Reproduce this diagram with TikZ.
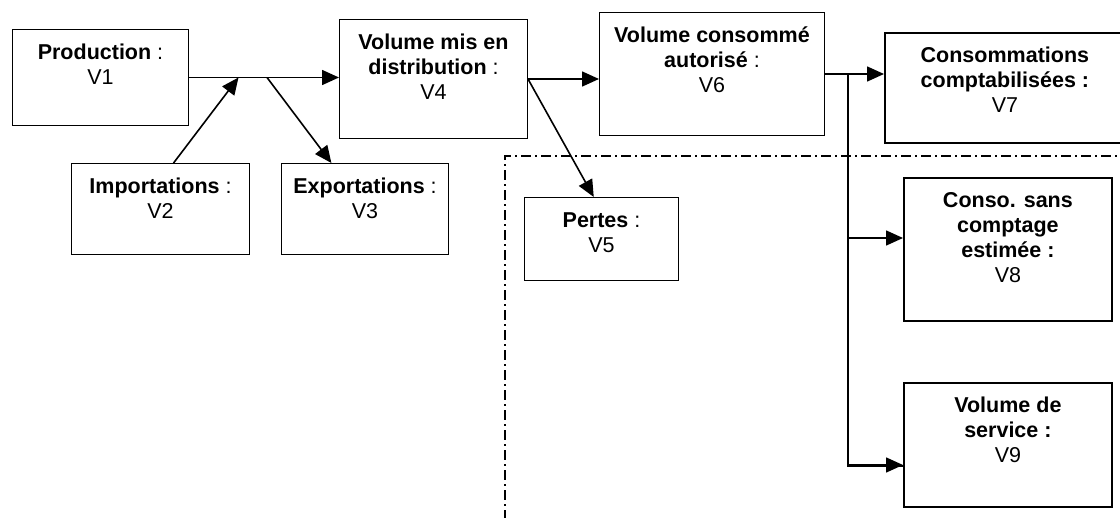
\documentclass[tikz,border=0pt]{standalone}
\usepackage{fontspec}
\setmainfont{Liberation Sans}
\usetikzlibrary{arrows.meta,calc}
\newcommand{\cadre}[3]{\parbox[c][#2pt][t]{#1pt}{\centering\rule{0pt}{30pt}#3}}
\begin{document}
\begin{tikzpicture}[x=1pt,y=-1pt,
		boite/.style={draw,line width=1pt,inner sep=0pt,anchor=north west,font=\fontsize{21.5}{25}\selectfont},
		boitegras/.style={boite,line width=1.8pt},
		fleche/.style={line width=1.6pt,-{Triangle[length=17pt,width=15pt]}},
		tiret/.style={line width=1.6pt,dash pattern=on 10pt off 4pt on 2pt off 4pt}]
				% Rahmen: 1120 x 518
				\useasboundingbox (0,0) rectangle (1120,518);
				\draw[tiret] (505,520) |- (1122,156);
				\node[boite] (v1) at (12,29) {\cadre{176}{96}{\textbf{Production} :\\V1}};
				\node[boite] (v2) at (71,163) {\cadre{178}{91}{\textbf{Importations} :\\V2}};
				\node[boite] (v3) at (281,163) {\cadre{167}{91}{\textbf{Exportations} :\\V3}};
				\node[boite] (v4) at (339,19) {\cadre{188}{119}{\textbf{Volume mis en}\\\textbf{distribution} :\\V4}};
				\node[boite] (v5) at (524,197) {\cadre{154}{83}{\textbf{Pertes} :\\V5}};
				\node[boite] (v6) at (599,12) {\cadre{225}{123}{\textbf{Volume consommé}\\\textbf{autorisé} :\\V6}};
				\node[boitegras] (v7) at (884,32) {\cadre{240}{110}{\textbf{Consommations}\\\textbf{comptabilisées :}\\V7}};
				\node[boitegras] (v8) at (903,177) {\cadre{208}{143}{\textbf{Conso. sans}\\\textbf{comptage}\\\textbf{estimée :}\\V8}};
				\node[boitegras] (v9) at (903,382) {\cadre{208}{124}{\textbf{Volume de}\\\textbf{service :}\\V9}};
				\coordinate (imp) at ($(v1.east)!0.33!(v1.east -| v4.west)$);
				\coordinate (exp) at ($(v1.east)!0.52!(v1.east -| v4.west)$);
				\coordinate (embr) at ($(v6.east)+(23,0)$);
				\draw[fleche] (v1.east) -- (v1.east -| v4.west);
				\draw[fleche] ($(v2.north west)!0.573!(v2.north east)$) -- (imp);
				\draw[fleche] (exp) -- ($(v3.north west)!0.3!(v3.north east)$);
				\draw[fleche] (v4.east) -- (v4.east -| v6.west);
				\draw[fleche] (v4.east) -- ($(v5.north west)!0.45!(v5.north east)$);
				\draw[fleche] (v6.east) -- (v6.east -| v7.west);
				\draw[line width=1.6pt] (embr) |- ($(v9.west)+(0,21)$);
				\draw[fleche] (embr |- 0,238) -- (v8.west |- 0,238);
				\draw[fleche] (embr |- 0,465) -- (v9.west |- 0,465);
\end{tikzpicture}
\end{document}
